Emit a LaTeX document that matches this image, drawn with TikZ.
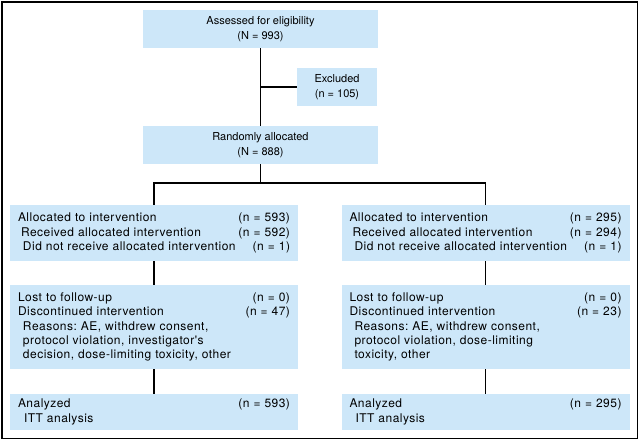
\documentclass[tikz,border=0pt]{standalone}
\usepackage{fontspec}
\setmainfont{TeX Gyre Heros}
\newfontfamily\armfont[LetterSpace=4]{TeX Gyre Heros}
\usetikzlibrary{positioning}
\definecolor{boxblue}{RGB}{205,231,249}
\tikzset{
  box/.style={fill=boxblue, inner sep=0pt, font=\fontsize{11}{14.4}\selectfont},
  midbox/.style={box, minimum width=235pt, minimum height=38pt, align=center},
  armbox/.style={box, minimum width=288pt, text width=272pt, align=left,
    font=\armfont\fontsize{12}{14.4}\selectfont\frenchspacing},
  link/.style={line width=1.8pt}
}
\newcommand{\sub}[1]{\hspace*{#1pt}}
\begin{document}
\begin{tikzpicture}[x=1pt,y=-1pt]
  \useasboundingbox (0,0) rectangle (640,441);
  \draw[line width=1.5pt] (2,2) rectangle (637.5,438.5);
  % upper part
  \node[midbox] (assessed) at (260.5,29) {Assessed for eligibility\\(N = 993)};
  \node[box, minimum width=80pt, minimum height=38pt, align=center] (excluded) at (337,87) {Excluded\\(n = 105)};
  \node[midbox] (random) at (260.5,145) {Randomly allocated\\(N = 888)};
  % two arms
  \node[armbox, minimum height=56pt] (allocL) at (154,233)
    {Allocated to intervention\hfill(n = 593)\\
     \sub{3}Received allocated intervention\hfill(n = 592)\\
     \sub{5}Did not receive allocated intervention\hfill(n = 1)};
  \node[armbox, minimum height=56pt] (allocR) at (485.5,233)
    {Allocated to intervention\hfill(n = 295)\\
     \sub{3}Received allocated intervention\hfill(n = 294)\\
     \sub{5}Did not receive allocated intervention\hfill(n = 1)};
  \node[armbox, minimum height=84pt] (lostL) at (154,327)
    {Lost to follow-up\hfill(n = 0)\\
     Discontinued intervention\hfill(n = 47)\\
     \sub{5}Reasons: AE, withdrew consent,\\
     \sub{5}protocol violation, investigator's\\
     \sub{5}decision, dose-limiting toxicity, other};
  \node[armbox, minimum height=84pt] (lostR) at (485.5,327)
    {Lost to follow-up\hfill(n = 0)\\
     Discontinued intervention\hfill(n = 23)\\
     \sub{5}Reasons: AE, withdrew consent,\\
     \sub{5}protocol violation, dose-limiting\\
     \sub{5}toxicity, other};
  \node[armbox, minimum height=36pt] (analyzedL) at (154,412)
    {Analyzed\hfill(n = 593)\\
     \sub{6}ITT analysis};
  \node[armbox, minimum height=36pt] (analyzedR) at (485.5,412)
    {Analyzed\hfill(n = 295)\\
     \sub{6}ITT analysis};
  % connectors
  \coordinate (split) at (260.5,183);
  \draw[link] (assessed) -- (random);
  \draw[link] (assessed.south |- excluded.west) -- (excluded.west);
  \draw[link] (random) -- (split);
  \draw[link] (allocL.north) |- (split) -| (allocR.north);
  \draw[link] (allocL) -- (lostL);
  \draw[link] (allocR) -- (lostR);
  \draw[link] (lostL) -- (analyzedL);
  \draw[link] (lostR) -- (analyzedR);
\end{tikzpicture}
\end{document}
